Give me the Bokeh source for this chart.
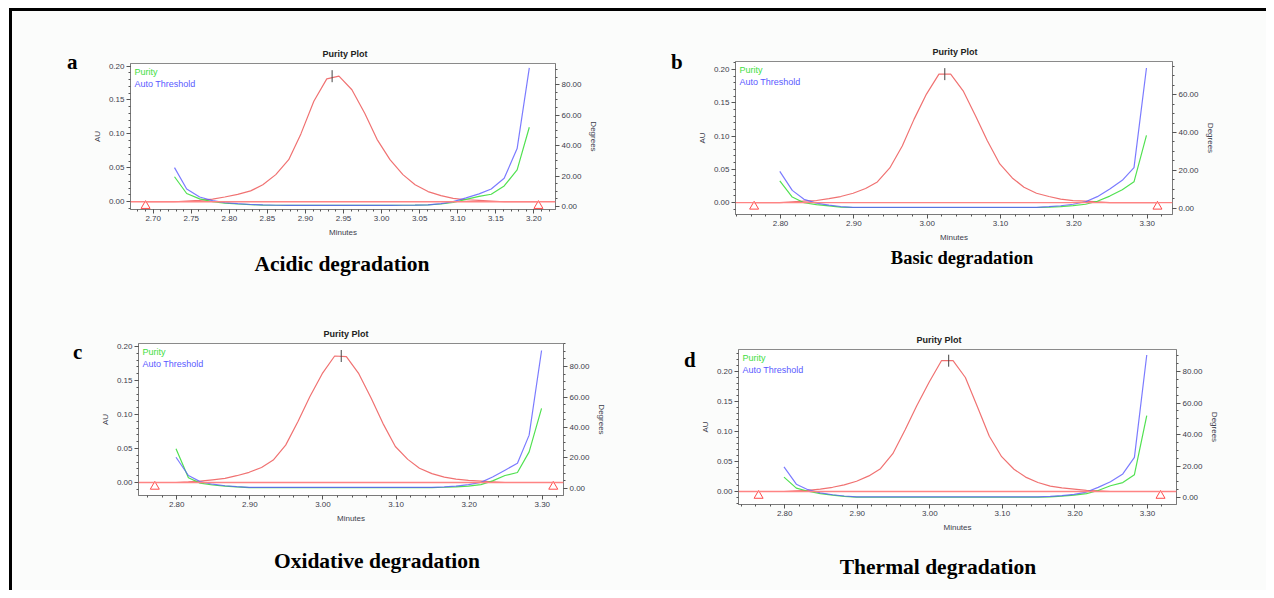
from math import pi
from bokeh.plotting import figure
from bokeh.models import (Range1d, LinearAxis, SingleIntervalTicker, NumeralTickFormatter,
                          Label, Span, Div, Spacer)
from bokeh.layouts import row, column
from bokeh.embed import file_html
from bokeh.resources import INLINE

# ---------------- data ----------------
# panel a (acidic)
t_a = [2.728, 2.744, 2.761, 2.778, 2.794, 2.811, 2.828, 2.844, 2.861, 2.878, 2.894, 2.911,
       2.928, 2.944, 2.961, 2.978, 2.994, 3.011, 3.028, 3.044, 3.061, 3.078, 3.094, 3.111,
       3.128, 3.144, 3.161, 3.178, 3.194]
au_a = [0.000, 0.001, 0.002, 0.004, 0.007, 0.011, 0.016, 0.025, 0.040, 0.062, 0.100, 0.148,
        0.181, 0.185, 0.165, 0.130, 0.092, 0.062, 0.040, 0.025, 0.015, 0.009, 0.005, 0.003,
        0.002, 0.001, 0.000, 0.000, 0.000]
pur_a = [19.5, 8.5, 5.0, 3.2, 2.2, 1.6, 1.2, 0.9, 0.8, 0.7, 0.7, 0.7, 0.7, 0.7, 0.7, 0.7,
         0.7, 0.7, 0.8, 0.9, 1.1, 1.6, 2.6, 4.6, 6.6, 8.0, 13.5, 24.0, 52.0]
thr_a = [25.5, 11.5, 6.2, 3.8, 2.5, 1.8, 1.3, 1.0, 0.8, 0.7, 0.7, 0.7, 0.7, 0.7, 0.7, 0.7,
         0.7, 0.7, 0.8, 0.9, 1.1, 1.8, 3.2, 5.6, 8.3, 11.5, 18.5, 38.0, 91.0]
tri_a = [2.690, 3.206]
apex_a = [2.935, 0.185]

# shared grid for panels b, c, d
t_bcd = [2.799, 2.816, 2.832, 2.849, 2.866, 2.882, 2.899, 2.916, 2.932, 2.949, 2.966, 2.982,
         2.999, 3.016, 3.032, 3.049, 3.066, 3.082, 3.099, 3.116, 3.132, 3.149, 3.166, 3.182,
         3.199, 3.216, 3.232, 3.249, 3.266, 3.282, 3.299]
# panel b (basic)
au_b = [0.000, 0.001, 0.002, 0.003, 0.006, 0.009, 0.014, 0.021, 0.031, 0.052, 0.085, 0.125,
        0.163, 0.193, 0.193, 0.168, 0.130, 0.093, 0.058, 0.037, 0.023, 0.014, 0.009, 0.005,
        0.003, 0.002, 0.001, 0.000, 0.000, 0.000, 0.000]
pur_b = [14.5, 6.0, 3.0, 2.0, 1.3, 0.7, 0.5, 0.5, 0.5, 0.5, 0.5, 0.5, 0.5, 0.5, 0.5, 0.5,
         0.5, 0.5, 0.5, 0.5, 0.5, 0.5, 0.7, 1.0, 1.5, 2.2, 3.8, 6.5, 9.8, 14.0, 38.5]
thr_b = [19.5, 9.5, 4.8, 2.8, 1.7, 1.0, 0.6, 0.6, 0.6, 0.6, 0.6, 0.6, 0.6, 0.6, 0.6, 0.6,
         0.6, 0.6, 0.6, 0.6, 0.6, 0.6, 0.9, 1.4, 2.2, 3.5, 6.2, 10.2, 14.8, 21.5, 74.0]
tri_b = [2.764, 3.314]
apex_b = [3.024, 0.193]
# panel c (oxidative)
au_c = [0.000, 0.001, 0.002, 0.004, 0.006, 0.010, 0.015, 0.022, 0.033, 0.055, 0.090, 0.126,
        0.160, 0.186, 0.185, 0.160, 0.124, 0.087, 0.053, 0.034, 0.021, 0.013, 0.008, 0.005,
        0.003, 0.002, 0.001, 0.000, 0.000, 0.000, 0.000]
pur_c = [26.0, 7.0, 3.5, 2.3, 1.5, 1.0, 0.6, 0.6, 0.6, 0.6, 0.6, 0.6, 0.6, 0.6, 0.6, 0.6,
         0.6, 0.6, 0.6, 0.6, 0.6, 0.6, 0.8, 1.1, 1.6, 2.5, 5.0, 8.5, 10.5, 24.0, 52.5]
thr_c = [20.5, 8.5, 4.5, 2.8, 1.8, 1.2, 0.7, 0.7, 0.7, 0.7, 0.7, 0.7, 0.7, 0.7, 0.7, 0.7,
         0.7, 0.7, 0.7, 0.7, 0.7, 0.7, 1.0, 1.5, 2.5, 4.0, 7.5, 12.0, 16.5, 35.0, 90.5]
tri_c = [2.770, 3.315]
apex_c = [3.025, 0.186]
# panel d (thermal)
au_d = [0.000, 0.001, 0.002, 0.004, 0.007, 0.011, 0.017, 0.026, 0.038, 0.063, 0.103, 0.143,
        0.182, 0.218, 0.218, 0.190, 0.140, 0.092, 0.058, 0.037, 0.024, 0.015, 0.009, 0.006,
        0.004, 0.002, 0.001, 0.000, 0.000, 0.000, 0.000]
pur_d = [13.0, 6.0, 4.0, 2.5, 1.5, 0.8, 0.3, 0.3, 0.3, 0.3, 0.3, 0.3, 0.3, 0.3, 0.3, 0.3,
         0.3, 0.3, 0.3, 0.3, 0.3, 0.3, 0.5, 0.9, 1.5, 2.5, 4.5, 7.5, 9.5, 14.5, 52.0]
thr_d = [19.5, 8.5, 5.0, 3.0, 1.8, 1.0, 0.4, 0.4, 0.4, 0.4, 0.4, 0.4, 0.4, 0.4, 0.4, 0.4,
         0.4, 0.4, 0.4, 0.4, 0.4, 0.4, 0.7, 1.2, 2.0, 3.5, 6.5, 10.0, 15.0, 25.5, 90.5]
tri_d = [2.764, 3.318]
apex_d = [3.026, 0.218]

letters = ["a", "b", "c", "d"]
captions = ["Acidic degradation", "Basic degradation", "Oxidative degradation", "Thermal degradation"]

# ---------------- styling / layout ----------------
RED = "#f07272"
BASE = "#ff8484"
GREEN = "#3ede3e"
BLUE = "#5a5aff"
SANS = "Liberation Sans"
SERIF = "Liberation Serif"
BG = "#fbfcfb"


def panel(t, au, pur, thr, tri, apex, cfg):
    W, H, bl, br, bt, bb = cfg["size"]
    fh = H - bt - bb
    p = figure(width=W, height=H, x_range=Range1d(*cfg["xr"]), y_range=Range1d(*cfg["yr"]),
               output_backend="svg", toolbar_location=None, title="Purity Plot",
               min_border_left=bl, min_border_right=br, min_border_top=bt, min_border_bottom=bb,
               background_fill_color="white", border_fill_color=BG,
               outline_line_color="#8a8a8a", outline_line_width=1, frame_align=False)
    p.extra_y_ranges = {"deg": Range1d(*cfg["dr"])}
    p.title.text_font = SANS
    p.title.text_font_size = "9px"
    p.title.text_font_style = "bold"
    p.title.text_color = "#222222"
    p.title.align = "left"
    p.title.offset = cfg["title_off"]
    p.title.standoff = 10
    p.grid.visible = False

    p.xaxis.ticker = SingleIntervalTicker(interval=cfg["xi"], num_minor_ticks=5)
    p.yaxis.ticker = SingleIntervalTicker(interval=0.05, num_minor_ticks=5)
    p.xaxis.axis_label = "Minutes"
    p.yaxis.axis_label = "AU"
    deg_axis = LinearAxis(y_range_name="deg", axis_label="Degrees",
                          ticker=SingleIntervalTicker(interval=20, num_minor_ticks=4))
    p.add_layout(deg_axis, "right")
    for ax in [p.xaxis[0], p.yaxis[0], deg_axis]:
        ax.formatter = NumeralTickFormatter(format="0.00")
        ax.axis_line_color = "#7a7a7a"
        ax.major_tick_line_color = "#555555"
        ax.minor_tick_line_color = "#555555"
        ax.major_tick_out = 4
        ax.major_tick_in = 0
        ax.minor_tick_out = 2
        ax.minor_tick_in = 0
        ax.major_label_text_font = SANS
        ax.major_label_text_font_size = "8px"
        ax.major_label_text_color = "#3c3c4c"
        ax.major_label_standoff = 2
        ax.axis_label_text_font = SANS
        ax.axis_label_text_font_size = "8px"
        ax.axis_label_text_font_style = "normal"
        ax.axis_label_text_color = "#3c3c4c"
        ax.axis_label_standoff = 4

    p.add_layout(Span(location=0, dimension="width", line_color=BASE, line_width=1.3))
    tc = [tri[0]] + t + [tri[1]]
    ac = [0.0] + au + [0.0]
    p.line(tc, ac, line_color=RED, line_width=1.2)
    p.line(t, pur, y_range_name="deg", line_color=GREEN, line_width=1.2, line_alpha=0.9)
    p.line(t, thr, y_range_name="deg", line_color=BLUE, line_width=1.2, line_alpha=0.8)
    p.scatter(tri, [cfg["tri_y"]] * len(tri), marker="triangle", size=9,
              fill_color=None, line_color="#ff4a4a", line_width=1)
    p.scatter([apex[0]], [apex[1]], marker="dash", angle=pi / 2, size=12,
              line_color="#444444", line_width=1)

    p.add_layout(Label(x=4, y=fh - 8, x_units="screen", y_units="screen", text="Purity",
                       text_color=GREEN, text_font=SANS, text_font_size="9px",
                       text_baseline="middle"))
    p.add_layout(Label(x=4, y=fh - 20, x_units="screen", y_units="screen", text="Auto Threshold",
                       text_color=BLUE, text_font=SANS, text_font_size="9px",
                       text_baseline="middle"))
    return p


def letter_div(txt, h, top, dx=0):
    html = ('<div style="margin-top:%dpx;position:relative;left:%dpx;font-family:\'Liberation Serif\';'
            'font-weight:bold;font-size:21px;line-height:21px;text-align:center;color:black">%s</div>'
            % (top, dx, txt))
    return Div(text=html, width=14, height=h, margin=0)


def caption_div(txt, w, h, top, fs):
    html = ('<div style="width:%dpx;margin-top:%dpx;font-family:\'Liberation Serif\';font-weight:bold;'
            'font-size:%.1fpx;line-height:%.1fpx;text-align:center;color:black">%s</div>'
            % (w, top, fs, fs, txt))
    return Div(text=html, width=w, height=h, margin=0)


# size = (width, height, border_left, border_right, border_top, border_bottom)
cfg_a = dict(size=(560, 237, 50, 85, 52, 39), xr=(2.6702, 3.2284), yr=(-0.0114, 0.2037),
             dr=(-2.0, 93.9), xi=0.05, tri_y=-0.006, title_off=192)
cfg_b = dict(size=(582, 237, 51, 94, 50, 34), xr=(2.7386, 3.3345), yr=(-0.018, 0.212),
             dr=(-3.2, 77.4), xi=0.1, tri_y=-0.006, title_off=197)
cfg_c = dict(size=(555, 246, 53, 77, 53, 41), xr=(2.7477, 3.329), yr=(-0.0191, 0.2044),
             dr=(-4.6, 95.1), xi=0.1, tri_y=-0.006, title_off=185)
cfg_d = dict(size=(569, 246, 36, 90, 59, 32), xr=(2.7363, 3.340), yr=(-0.0217, 0.2367),
             dr=(-4.4, 94.0), xi=0.1, tri_y=-0.007, title_off=178)

pa = panel(t_a, au_a, pur_a, thr_a, tri_a, apex_a, cfg_a)
pb = panel(t_bcd, au_b, pur_b, thr_b, tri_b, apex_b, cfg_b)
pc = panel(t_bcd, au_c, pur_c, thr_c, tri_c, apex_c, cfg_c)
pd = panel(t_bcd, au_d, pur_d, thr_d, tri_d, apex_d, cfg_d)

top_row = row(Spacer(width=54, height=237, margin=0), letter_div(letters[0], 237, 41, 1), pa,
              Spacer(width=30, height=237, margin=0), letter_div(letters[1], 237, 41, 1), pb)
cap_row1 = row(caption_div(captions[0], 660, 42, 6, 21.5),
               caption_div(captions[1], 580, 42, 1, 18.5))
bot_row = row(Spacer(width=59, height=246, margin=0), letter_div(letters[2], 246, 52, 2), pc,
              Spacer(width=43, height=246, margin=0), letter_div(letters[3], 246, 60, 1), pd)
cap_row2 = row(caption_div(captions[2], 730, 54, 15, 21.5),
               caption_div(captions[3], 392, 54, 21, 21.5))

framed = column(top_row, cap_row1, bot_row, cap_row2,
                styles={"border-top": "3px solid black", "border-left": "3px solid black",
                        "background-color": BG})
layout = column(Spacer(height=8, width=10, margin=0),
                row(Spacer(width=9, height=10, margin=0), framed))

open("out.html", "w").write(file_html(layout, INLINE))
